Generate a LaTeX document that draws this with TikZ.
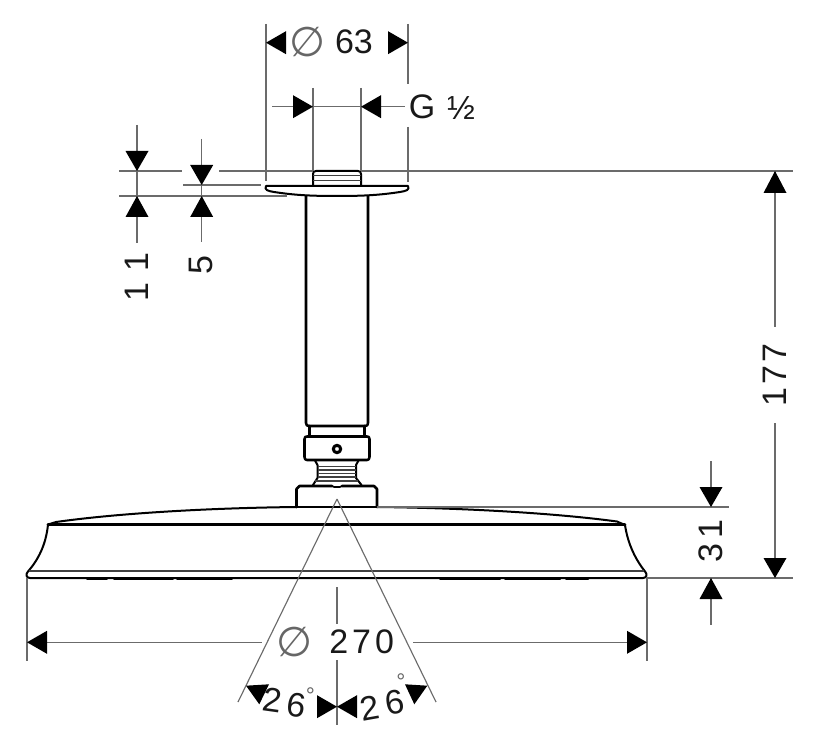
\documentclass[tikz,border=0pt]{standalone}
\usepackage{fontspec}
\setmainfont{Liberation Sans}
\newfontfamily\symfont{DejaVu Sans}
\definecolor{dimgr}{gray}{0.42}
\tikzset{
  thin line/.style={draw=dimgr,line width=0.85pt},
  body/.style={draw=black,line width=1.9pt,line join=round,line cap=round},
  fine/.style={draw=black!75,line width=0.8pt},
  head/.style={fill=black,draw=none},
  lab/.style={inner sep=0pt,font=\fontsize{25.5}{27}\selectfont,text=black!90},
  dia/.style={inner sep=0pt,font=\symfont\fontsize{31}{32}\selectfont,text=black!60},
}
\newcommand{\Hd}[3]{\fill[head] (#1,#2) -- ++(#3,-11.5) -- ++(0,23) -- cycle;}
\newcommand{\Vd}[3]{\fill[head] (#1,#2) -- ++(-11.5,#3) -- ++(23,0) -- cycle;}
\begin{document}
\begin{tikzpicture}[x=0.75pt,y=-0.75pt]
\useasboundingbox (0,0) rectangle (820,748);
\fill[white] (0,0) rectangle (820,748);

% --- fitting at the ceiling
\draw[body,line width=1.5pt] (313,185) -- (313,174) .. controls (313,172) and (314,171) .. (316,171) -- (358,171) .. controls (360,171) and (361,172) .. (361,174) -- (361,185);
\draw[fine,line width=1.1pt] (313,175.5) -- (361,175.5) (313,180.5) -- (361,180.5);
\draw[body,line width=1.5pt] (266,186) -- (408,186) .. controls (410,190) and (406,191) .. (400,192) .. controls (380,195) and (365,196) .. (337,196) .. controls (309,196) and (294,195) .. (274,192) .. controls (268,191) and (264,190) .. (266,186) -- cycle;

% --- arm
\draw[body] (306,196) -- (306,423) .. controls (306,425) and (307,426) .. (309,426) -- (365,426) .. controls (367,426) and (368,425) .. (368,423) -- (368,196);
\draw[body] (309.5,426) -- (309.5,436.5) (364.5,426) -- (364.5,436.5);
\draw[body] (304.5,439) .. controls (304.5,437) and (305.5,436.5) .. (307,436.5) -- (367,436.5) .. controls (368.5,436.5) and (369.5,437) .. (369.5,439) -- (369.5,457) .. controls (369.5,459) and (368.5,460) .. (367,460) -- (307,460) .. controls (305.5,460) and (304.5,459) .. (304.5,457) -- cycle;
\draw[body,line width=2.3pt] (337,449) circle (3.7);
\draw[body,line width=1.5pt] (315,460.5) -- (317.5,465) -- (317.5,478) -- (313,485);
\draw[body,line width=1.5pt] (358.5,460.5) -- (356,465) -- (356,478) -- (361.5,485);
\draw[fine] (317.5,466.5) -- (356,466.5) (317.5,470) -- (356,470) (317.5,473.5) -- (356,473.5) (317.5,477) -- (356,477) (315,481) -- (358,481);
\draw[body] (296.5,507) -- (296.5,489) -- (299.5,486) -- (332,486) (342,486) -- (374,486) -- (377,489) -- (377,507);
\draw[body,line width=1.2pt] (332,486) -- (334,487) -- (340,487) -- (342,486);

% --- shower head
\draw[body,line width=1.5pt] (296.5,507) .. controls (210,508) and (120,513) .. (56,522) -- (48,524.5);
\draw[body,line width=1.5pt] (377,507) .. controls (464,508) and (554,513) .. (617,521.5) -- (625,525);
\draw[body] (48,524.5) -- (625,524.5);
\draw[body] (296.5,507) -- (377,507);
\draw[body,line width=1.5pt] (48,524.5) .. controls (46,545) and (38,560) .. (28,571.5) .. controls (25.5,574) and (26,578) .. (30,578) -- (643,578) .. controls (647,578) and (647.5,574) .. (645,571.5) .. controls (636,560) and (628,545) .. (625,525);
\draw[fine] (29,571) -- (644,571);
\draw[body,line width=1.5pt] (87,579) -- (107,579) (114,579) -- (173,579) (177,579) -- (232,579) (440,579) -- (500,579) (505,579) -- (560,579) (566,579) -- (588,579);

% --- extension lines
\draw[thin line] (266,24) -- (266,181);
\draw[thin line] (408,24) -- (408,84) (408,127) -- (408,182);
\draw[thin line] (313,88) -- (313,171) (361,88) -- (361,171);
\draw[thin line] (119,171) -- (182,171) (219,171) -- (313,171) (361,171) -- (793,171);
\draw[thin line] (183,185) -- (261,185);
\draw[thin line] (119,196) -- (287,196);
\draw[thin line] (377,507) -- (729,507);
\draw[thin line] (647,578) -- (793,578);
\draw[thin line] (27,578) -- (27,661) (647,578) -- (647,661);
\draw[thin line] (337,587) -- (337,624) (337,660) -- (337,725);
\draw[thin line] (337,499) -- (238,702) (337,499) -- (436,702);

% --- dimension lines
\draw[thin line] (272,106.7) -- (405,106.7);
\draw[thin line] (137,125) -- (137,243);
\draw[thin line] (201.7,139) -- (201.7,242);
\draw[thin line] (775,171) -- (775,327) (775,423) -- (775,578);
\draw[thin line] (711,461) -- (711,507) (711,578) -- (711,625);
\draw[thin line] (47,642.3) -- (262,642.3) (413,642.3) -- (627,642.3);

% --- arrowheads
\Hd{266}{42.7}{20} \Hd{408}{42.7}{-20}
\Hd{313}{106.7}{-20} \Hd{361}{106.7}{20}
\Vd{137}{171}{-20} \Vd{137}{196}{21}
\Vd{201.7}{185}{-20} \Vd{201.7}{196}{21}
\Vd{775}{171}{22} \Vd{775}{578}{-20}
\Vd{711}{507}{-20} \Vd{711}{578}{21}
\Hd{27}{642.3}{20} \Hd{647}{642.3}{-20}
\Hd{337}{706.7}{-20} \Hd{337}{706.7}{20}
\fill[head] (246,685.7) -- (269,684.3) -- (259.3,704.3) -- cycle;
\fill[head] (427.3,685.7) -- (405,684.3) -- (414.3,704.3) -- cycle;

% --- labels
\node[dia] (d63) at (307.5,42) {∅};
\node[lab] (t63) at (354,42) {63};
\node[lab] (tg) at (422,107) {G};
\node[lab,font=\fontsize{25}{26}\selectfont] (thalf) at (461,108) {½};
\node[lab,rotate=90] (t11) at (137,277) {1\hspace{8pt}1};
\node[lab,rotate=90] (t5) at (201,265) {5};
\node[lab,rotate=90] (t177) at (775,375) {1\hspace{2pt}7\hspace{2pt}7};
\node[lab,rotate=90] (t31) at (711,541) {3\hspace{4pt}1};
\node[dia] (d270) at (294,642) {∅};
\node[lab] (t270) at (361.7,642) {2\hspace{3pt}7\hspace{3pt}0};
\node[lab,rotate=-8] (a1) at (272.5,700.5) {2};
\node[lab,rotate=-8] (a2) at (296,705) {6};
\node[lab,font=\fontsize{17}{18}\selectfont,text=black!60] (a3) at (310.5,696) {°};
\node[lab,rotate=10] (b1) at (369.5,708) {2};
\node[lab,rotate=10] (b2) at (394.5,702) {6};
\node[lab,font=\fontsize{17}{18}\selectfont,text=black!60] (b3) at (401,682) {°};
\end{tikzpicture}
\end{document}
